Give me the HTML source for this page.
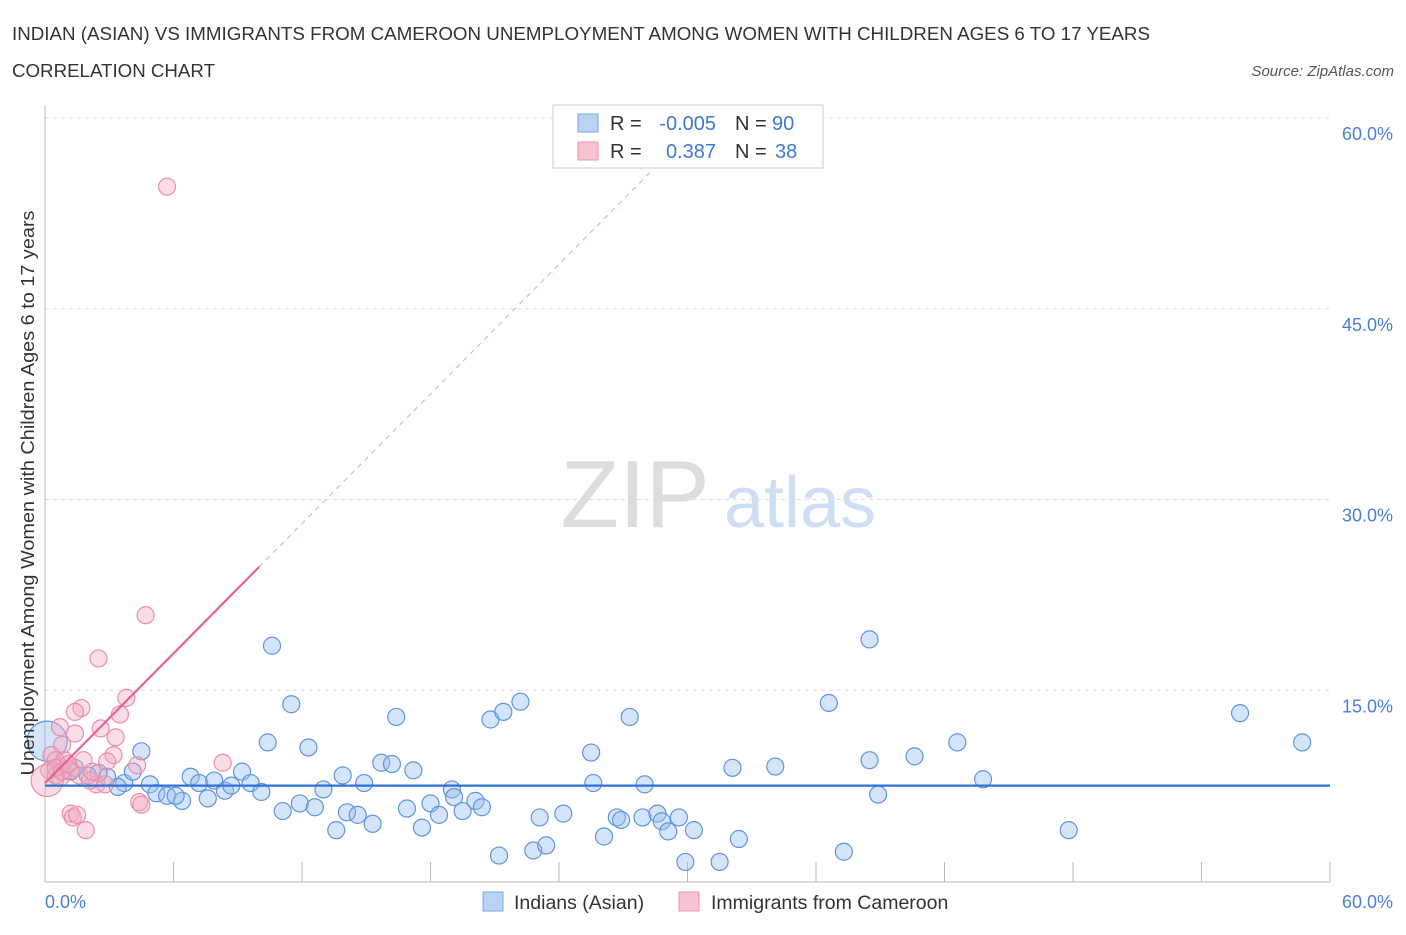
<!DOCTYPE html>
<html><head><meta charset="utf-8"><style>
body{margin:0;background:#fff;font-family:"Liberation Sans",sans-serif;}
svg text{font-family:"Liberation Sans",sans-serif;}
</style></head><body>
<svg width="1406" height="930" xmlns="http://www.w3.org/2000/svg">
<text x="12" y="40" font-size="18" fill="#333" textLength="1138" lengthAdjust="spacingAndGlyphs">INDIAN (ASIAN) VS IMMIGRANTS FROM CAMEROON UNEMPLOYMENT AMONG WOMEN WITH CHILDREN AGES 6 TO 17 YEARS</text>
<text x="12" y="77" font-size="18" fill="#333" textLength="203" lengthAdjust="spacingAndGlyphs">CORRELATION CHART</text>
<text x="1394" y="76" font-size="15" font-style="italic" fill="#555" text-anchor="end">Source: ZipAtlas.com</text>
<text x="635" y="527" font-size="96" font-family="Liberation Serif" fill="#ddd" text-anchor="middle">ZIP</text>
<text x="800" y="527" font-size="72" fill="#cfdff3" text-anchor="middle">atlas</text>
<g id="grid"></g>
<g id="axes"></g>
<g id="pts"></g>
<g id="lines"></g>
<text transform="translate(34,493) rotate(-90)" font-size="18" fill="#333" text-anchor="middle" textLength="565" lengthAdjust="spacingAndGlyphs">Unemployment Among Women with Children Ages 6 to 17 years</text>
<text x="45" y="908" font-size="18" fill="#4a7fd4">0.0%</text>
<text x="1393" y="908" font-size="18" fill="#4a7fd4" text-anchor="end">60.0%</text>
<g>
<rect x="553" y="105" width="270" height="63" fill="#fff" stroke="#ccc"/>
<rect x="578" y="114" width="20" height="18" fill="#b9d3f5" stroke="#7aa7e0"/>
<rect x="578" y="142" width="20" height="18" fill="#f9c4d2" stroke="#eb93ad"/>
<text x="610" y="130" font-size="20" fill="#333">R =</text>
<text x="716" y="130" font-size="20" fill="#3e78d0" text-anchor="end">-0.005</text>
<text x="735" y="130" font-size="20" fill="#333">N =</text>
<text x="772" y="130" font-size="20" fill="#3e78d0">90</text>
<text x="610" y="158" font-size="20" fill="#333">R =</text>
<text x="716" y="158" font-size="20" fill="#3e78d0" text-anchor="end">0.387</text>
<text x="735" y="158" font-size="20" fill="#333">N =</text>
<text x="775" y="158" font-size="20" fill="#3e78d0">38</text>
</g>
<g>
<rect x="483" y="892" width="20" height="19" fill="#b9d3f5" stroke="#7aa7e0"/>
<text x="514" y="909" font-size="19.5" fill="#333">Indians (Asian)</text>
<rect x="679" y="892" width="20" height="19" fill="#f9c4d2" stroke="#eb93ad"/>
<text x="711" y="909" font-size="19.5" fill="#333">Immigrants from Cameroon</text>
</g>
</svg>
<script>
const yTicks=[15,30,45,60];
const yTickLabels=["15.0%","30.0%","45.0%","60.0%"];
const xTicks=[0,6,12,18,24,30,36,42,48,54,60];
const blueX=[10.6,11.5,4.5,10.4,12.3,6.8,7.2,7.9,7.6,8.4,9.2,8.7,9.6,10.1,4.9,3.7,3.4,2.9,4.1,2.5,2.0,1.2,0.7,5.2,5.7,6.4,6.1,11.1,11.9,12.6,13.0,13.6,13.9,14.1,14.6,14.9,15.3,15.7,16.2,16.4,16.9,17.2,17.6,18.0,18.4,19.0,19.1,19.5,20.1,20.4,20.8,21.4,22.2,21.2,22.8,23.1,23.4,24.2,25.5,25.6,26.1,26.7,26.9,27.3,27.9,28.0,28.6,28.8,29.1,29.6,29.9,30.3,31.5,32.4,32.1,34.1,36.6,37.3,38.5,38.5,38.9,40.6,42.6,43.8,47.8,55.8,58.7,0.1,0.5,1.4];
const blueY=[18.5,13.9,10.2,10.9,10.5,8.2,7.7,7.9,6.5,7.1,8.6,7.5,7.7,7.0,7.6,7.7,7.4,8.2,8.6,8.5,8.3,8.6,9.0,6.9,6.7,6.3,6.7,5.5,6.1,5.8,7.2,4.0,8.3,5.4,5.2,7.7,4.5,9.3,9.2,12.9,5.7,8.7,4.2,6.1,5.2,7.2,6.6,5.5,6.3,5.8,12.7,13.3,14.1,2.0,2.4,5.0,2.8,5.3,10.1,7.7,3.5,5.0,4.8,12.9,5.0,7.6,5.3,4.7,3.9,5.0,1.5,4.0,1.5,3.3,8.9,9.0,14.0,2.3,9.5,19.0,6.8,9.8,10.9,8.0,4.0,13.2,10.9,11.0,8.3,8.9];
const pinkX=[5.7,4.7,2.5,3.8,3.5,2.6,3.3,1.7,1.4,0.7,1.4,0.8,0.3,0.2,0.7,1.2,1.6,3.2,2.9,4.3,8.3,2.4,4.4,4.5,1.2,1.3,1.5,1.9,0.5,0.9,2.1,0.1,0.5,0.8,1.1,1.8,2.2,2.8];
const pinkY=[54.6,20.9,17.5,14.4,13.1,12.0,11.3,13.6,13.3,12.1,11.6,10.7,9.9,8.7,8.1,8.7,8.3,9.9,9.4,9.1,9.3,7.6,6.2,6.0,5.3,5.0,5.2,4.0,9.5,9.5,7.9,7.9,8.9,8.6,9.2,9.5,8.6,7.6];
const blueTrend=[7.5,7.5];
const pinkTrend=[7.7,24.7];
const pinkTrendEndX=10;
const pinkDashEndX=28.3;
const NS="http://www.w3.org/2000/svg";
const X=v=>45+v*(1285/60), Y=v=>881-v*(763/60);
function mk(t,a,p){const e=document.createElementNS(NS,t);for(const k in a)e.setAttribute(k,a[k]);p.appendChild(e);return e;}
const grid=document.getElementById('grid'),axes=document.getElementById('axes'),pts=document.getElementById('pts'),lines=document.getElementById('lines');
yTicks.forEach((t,i)=>{
 const l=mk('line',{x1:45,x2:1330,y1:Y(t),y2:Y(t),stroke:'#ddd','stroke-dasharray':'4,4'},grid);
 
 
 const tx=mk('text',{x:1393,y:Y(t)+22,'font-size':18,fill:'#4a7fd4','text-anchor':'end'},grid);
 tx.textContent=yTickLabels[i];
 
 
});
const ax=mk('line',{x1:45,x2:1330,y1:882,y2:882,stroke:'#bbb'},axes);


const ay=mk('line',{x1:45,x2:45,y1:105,y2:882,stroke:'#bbb'},axes);


xTicks.forEach(t=>{
 const l=mk('line',{x1:X(t),x2:X(t),y1:862,y2:882,stroke:'#bbb'},axes);
 
 
});
blueX.forEach((v,i)=>{
 const r=i==87?20:8.5;
 const c=mk('circle',{cx:X(v),cy:Y(blueY[i]),r:r,fill:'rgba(150,190,240,0.4)',stroke:'#5f95dc','stroke-width':1.2},pts);
 
 
});
pinkX.forEach((v,i)=>{
 const r=i==31?16:8.5;
 const c=mk('circle',{cx:X(v),cy:Y(pinkY[i]),r:r,fill:'rgba(245,170,190,0.4)',stroke:'#ea8fab','stroke-width':1.2},pts);
 
 
});
const bl=mk('line',{x1:X(0),x2:X(60),y1:Y(blueTrend[0]),y2:Y(blueTrend[1]),stroke:'#2f72d6','stroke-width':2.2},lines);


const slope=(pinkTrend[1]-pinkTrend[0])/pinkTrendEndX;
const pd=mk('line',{x1:X(pinkTrendEndX),y1:Y(pinkTrend[1]),x2:X(pinkDashEndX),y2:Y(pinkTrend[0]+slope*pinkDashEndX),stroke:'#e8a0b6','stroke-width':1,'stroke-dasharray':'5,5'},lines);


const pl=mk('line',{x1:X(0),x2:X(pinkTrendEndX),y1:Y(pinkTrend[0]),y2:Y(pinkTrend[1]),stroke:'#e8638e','stroke-width':2.2},lines);


</script>
</body></html>
